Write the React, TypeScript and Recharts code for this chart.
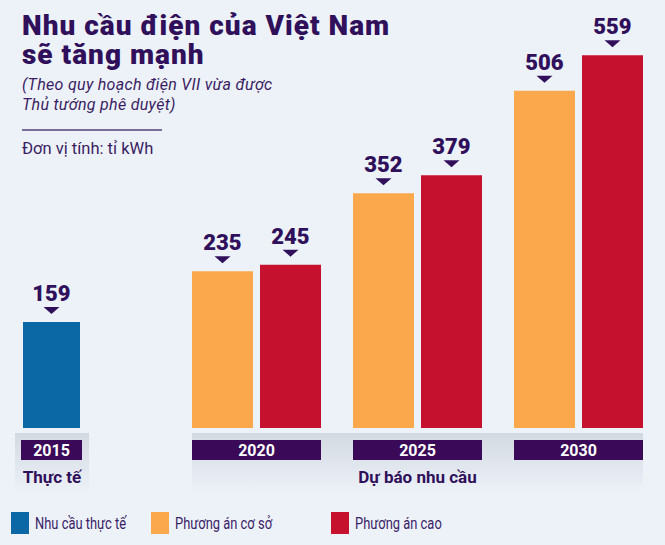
import { Bar, BarChart, LabelList, XAxis, YAxis } from 'recharts';

const actualYears = ['2015'];
const actualValues = [159];
const forecastYears = ['2020', '2025', '2030'];
const baseValues = [235, 352, 506];
const highValues = [245, 379, 559];
const seriesNames = ['Nhu cầu thực tế', 'Phương án cơ sở', 'Phương án cao'];
const groupNames = ['Thực tế', 'Dự báo nhu cầu'];

const BG = '#edf2f9';
const INK = '#30105a';
const TEXT = '#3a1d62';
const BOX = '#3a0a58';
const colors = ['#0b68a4', '#faa84b', '#c5112e'];
const FONT = 'Roboto, sans-serif';

const actualData = actualYears.map((year, i) => ({ year, actual: actualValues[i] }));
const forecastData = forecastYears.map((year, i) => ({
  year,
  base: baseValues[i],
  high: highValues[i],
}));

const ValueLabel = (props: any) => {
  const { x, y, width, value } = props;
  const cx = x + width / 2;
  return (
    <g>
      <text x={cx} y={y - 21} textAnchor='middle' fill={INK} fontSize={22} fontWeight={900} fontFamily={FONT}>
        {value}
      </text>
      <path d={`M${cx - 8},${y - 15} L${cx + 8},${y - 15} L${cx},${y - 8} Z`} fill={INK} />
    </g>
  );
};

const makeTick = (boxW: number) => (props: any) => {
  const { x, y, payload } = props;
  return (
    <g>
      <rect x={x - boxW / 2} y={y + 12} width={boxW} height={20} fill={BOX} />
      <text x={x} y={y + 28} textAnchor='middle' fill='#fff' fontSize={16} fontWeight={700} fontFamily={FONT}>
        {payload.value}
      </text>
    </g>
  );
};

const chartMargin = { top: 28, right: 0, bottom: 0, left: 0 };
const abs = (left: number, top: number) => ({ position: 'absolute' as const, left, top, whiteSpace: 'nowrap' as const });
const titleStyle = { fontSize: 28, fontWeight: 900, lineHeight: '28px', letterSpacing: 1, color: INK };

export default function App() {
  return (
    <div style={{ position: 'relative', width: 665, height: 545, background: BG, overflow: 'hidden', fontFamily: FONT }}>
      <style>{'body{margin:0}'}</style>

      {/* grey base panels */}
      <div style={{ ...abs(15, 433), width: 74, height: 60, background: `linear-gradient(#d3d9e1, ${BG})` }} />
      <div style={{ ...abs(192, 433), width: 451, height: 60, background: `linear-gradient(#d3d9e1, ${BG})` }} />

      <div style={{ ...abs(22, 12), ...titleStyle }}>Nhu cầu điện của Việt Nam</div>
      <div style={{ ...abs(22, 41), ...titleStyle }}>sẽ tăng mạnh</div>
      <div style={{ ...abs(22, 75), fontSize: 16, fontStyle: 'italic', lineHeight: '20px', letterSpacing: 0.3, color: TEXT }}>
        (Theo quy hoạch điện VII vừa được
        <br />
        Thủ tướng phê duyệt)
      </div>
      <div style={{ ...abs(22, 129), width: 140, height: 1.5, background: '#7b6c9c' }} />
      <div style={{ ...abs(22, 139), fontSize: 16.5, lineHeight: '20px', color: TEXT }}>Đơn vị tính: tỉ kWh</div>

      <div style={abs(0, 0)}>
        <BarChart width={103} height={498} data={actualData} margin={chartMargin}>
          <YAxis hide domain={[0, 600]} />
          <XAxis dataKey='year' axisLine={false} tickLine={false} tickSize={0} tickMargin={0} height={70} interval={0} tick={makeTick(61)} />
          <Bar dataKey='actual' fill={colors[0]} barSize={57} isAnimationActive={false}>
            <LabelList dataKey='actual' content={ValueLabel} />
          </Bar>
        </BarChart>
      </div>

      <div style={abs(176, 0)}>
        <BarChart width={483} height={498} data={forecastData} margin={chartMargin} barGap={7}>
          <YAxis hide domain={[0, 600]} />
          <XAxis dataKey='year' axisLine={false} tickLine={false} tickSize={0} tickMargin={0} height={70} interval={0} tick={makeTick(129)} />
          <Bar dataKey='base' fill={colors[1]} barSize={61} isAnimationActive={false}>
            <LabelList dataKey='base' content={ValueLabel} />
          </Bar>
          <Bar dataKey='high' fill={colors[2]} barSize={61} isAnimationActive={false}>
            <LabelList dataKey='high' content={ValueLabel} />
          </Bar>
        </BarChart>
      </div>

      <div style={{ ...abs(15, 467), width: 74, textAlign: 'center', fontSize: 17, fontWeight: 700, lineHeight: '20px', color: INK }}>
        {groupNames[0]}
      </div>
      <div style={{ ...abs(192, 467), width: 451, textAlign: 'center', fontSize: 17, fontWeight: 700, lineHeight: '20px', color: INK }}>
        {groupNames[1]}
      </div>

      {[11, 151, 331].map((left, i) => (
        <div key={seriesNames[i]} style={{ ...abs(left, 512), display: 'flex', alignItems: 'center' }}>
          <div style={{ width: 18, height: 22, background: colors[i] }} />
          <span
            style={{
              marginLeft: 6,
              fontSize: 17,
              color: '#3a1d66',
              display: 'inline-block',
              transform: 'scaleX(0.76)',
              transformOrigin: 'left center',
            }}
          >
            {seriesNames[i]}
          </span>
        </div>
      ))}
    </div>
  );
}
